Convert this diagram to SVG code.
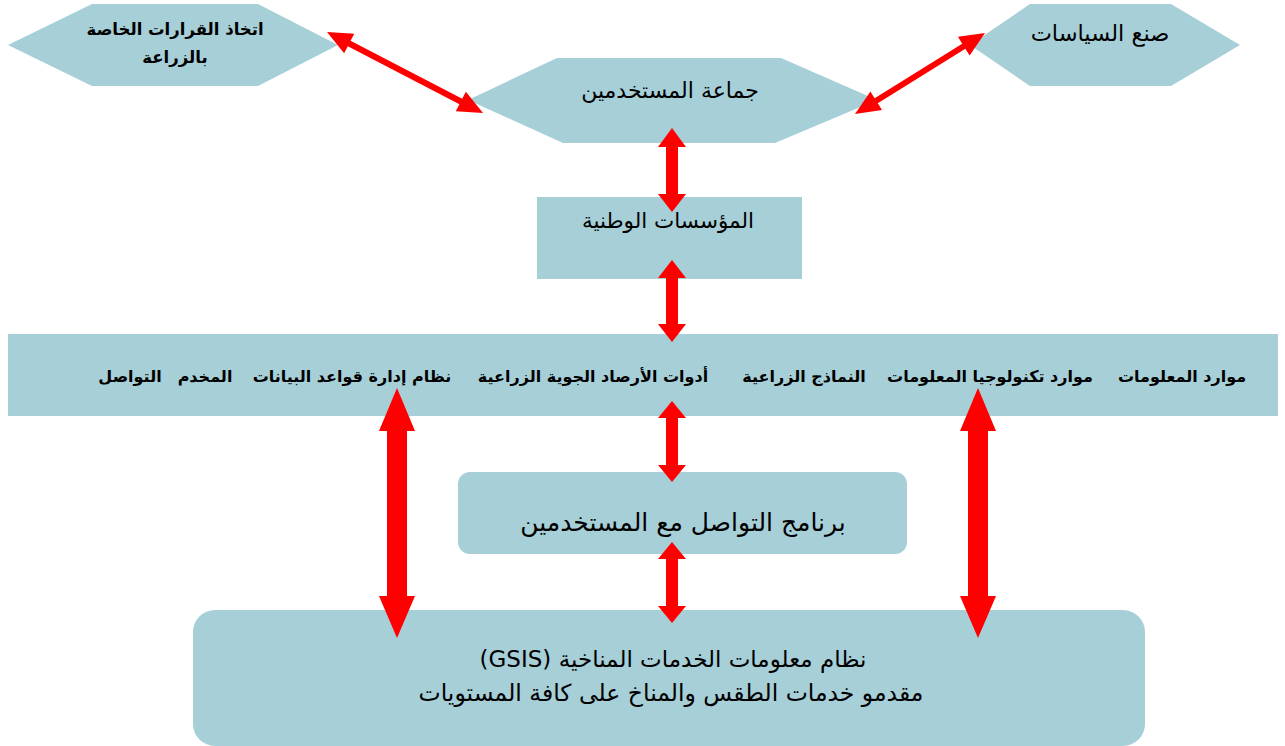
<svg xmlns="http://www.w3.org/2000/svg" width="1285" height="746" viewBox="0 0 1285 746">
<style>
.n{fill:#A6CFD8;stroke:none}
.t{font-family:"DejaVu Sans","Liberation Sans",sans-serif;fill:#000;text-anchor:middle;direction:rtl}
.b{font-weight:bold}
.a{fill:#FF0000;stroke:none}
</style>
<rect width="1285" height="746" fill="#fff"/>
<g id="node-decisions">
<polygon class="n" points="92,4 258,4 338,45 258,86 92,86 8,45"/>
<text class="t b" x="175" y="35" font-size="16.5">اتخاذ القرارات الخاصة</text>
<text class="t b" x="175" y="63" font-size="16.5">بالزراعة</text>
</g>
<g id="node-policy">
<polygon class="n" points="1030,4 1171,4 1240,45 1171,86 1030,86 970,45"/>
<text class="t" x="1100" y="41" font-size="22.5">صنع السياسات</text>
</g>
<g id="node-users">
<polygon class="n" points="557,58 781,58 877,100 775,143 563,143 468,100"/>
<text class="t" x="670" y="98" font-size="22">جماعة المستخدمين</text>
</g>
<g id="node-institutions">
<rect class="n" x="537" y="197" width="265" height="82"/>
<text class="t" x="668" y="228" font-size="21.5">المؤسسات الوطنية</text>
</g>
<g id="node-bar">
<rect class="n" x="8" y="334" width="1270" height="82"/>
<text class="t b" x="1182" y="382" font-size="16">موارد المعلومات</text>
<text class="t b" x="990" y="382" font-size="16">موارد تكنولوجيا المعلومات</text>
<text class="t b" x="804" y="382" font-size="16">النماذج الزراعية</text>
<text class="t b" x="593" y="382" font-size="16">أدوات الأرصاد الجوية الزراعية</text>
<text class="t b" x="352" y="382" font-size="16">نظام إدارة قواعد البيانات</text>
<text class="t b" x="205" y="382" font-size="16">المخدم</text>
<text class="t b" x="130" y="382" font-size="16">التواصل</text>
</g>
<g id="node-program">
<rect class="n" x="458" y="472" width="449" height="82" rx="12"/>
<text class="t" x="683" y="531" font-size="25">برنامج التواصل مع المستخدمين</text>
</g>
<g id="node-gsis">
<rect class="n" x="193" y="610" width="952" height="136" rx="22"/>
<text class="t" x="673" y="667" font-size="23">نظام معلومات الخدمات المناخية (GSIS)</text>
<text class="t" x="671" y="701" font-size="23.5">مقدمو خدمات الطقس والمناخ على كافة المستويات</text>
</g>
<g id="connectors">
<polygon class="a" transform="translate(327,32) rotate(27.44)" points="0,0 25,-11 25,-3 150.8,-3 150.8,-11 175.8,0 150.8,11 150.8,3 25,3 25,11"/>
<polygon class="a" transform="translate(855,114) rotate(-31.93)" points="0,0 25,-11 25,-3 128.2,-3 128.2,-11 153.2,0 128.2,11 128.2,3 25,3 25,11"/>
<polygon class="a" points="672,128 686,147 678,147 678,194 686,194 672,212 658,194 666,194 666,147 658,147"/>
<polygon class="a" points="672,260 686,278 678,278 678,324 686,324 672,342 658,324 666,324 666,278 658,278"/>
<polygon class="a" points="672,401 686,418 678,418 678,465 686,465 672,482 658,465 666,465 666,418 658,418"/>
<polygon class="a" points="672,542 686,559 678,559 678,606 686,606 672,623 658,606 666,606 666,559 658,559"/>
<polygon class="a" points="397,388 415,431 407,431 407,596 415,596 397,638 379,596 387,596 387,431 379,431"/>
<polygon class="a" points="978,388 996,431 988,431 988,596 996,596 978,638 960,596 968,596 968,431 960,431"/>
</g>
</svg>
